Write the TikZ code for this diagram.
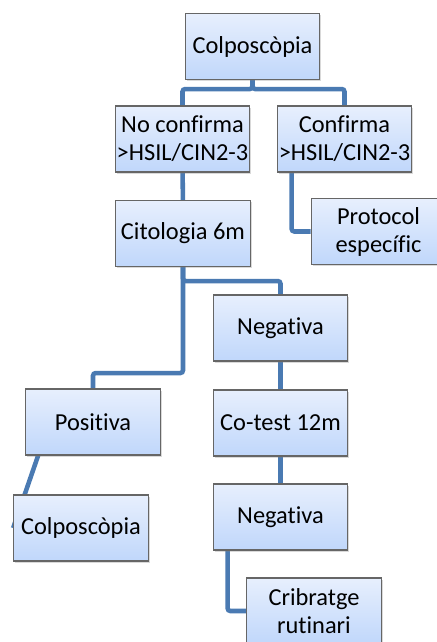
\documentclass[tikz,border=0pt]{standalone}
\usepackage{fontspec}
\setmainfont[Ligatures=NoCommon]{Carlito}
\usetikzlibrary{shadows,backgrounds}
\definecolor{linkblue}{RGB}{74,122,178}
\definecolor{boxtop}{RGB}{231,239,253}
\definecolor{boxbot}{RGB}{192,215,251}
\tikzset{
  stage/.style={draw=gray!80!black,line width=0.8pt,top color=boxtop,bottom color=boxbot,
    minimum width=101pt,minimum height=49.5pt,inner sep=0pt,align=center,
    font=\fontsize{18.3}{21}\selectfont,
    drop shadow={shadow xshift=1.2pt,shadow yshift=-1.2pt,opacity=0.3}},
  link/.style={draw=linkblue,line width=3.4pt,rounded corners=2pt}
}
\begin{document}
\begin{tikzpicture}[x=0.75pt,y=-0.75pt]
\useasboundingbox (0,0) rectangle (436,642);
\node[stage] (v0) at (252.5,46.5) {Colposcòpia};
\node[stage] (v1) at (182.5,139) {No confirma\\>HSIL/CIN2-3};
\node[stage] (v2) at (344.5,139) {Confirma\\>HSIL/CIN2-3};
\node[stage] (v3) at (378.5,231.5) {Protocol\\específic};
\node[stage] (v4) at (183,233.5) {Citologia 6m};
\node[stage] (v5) at (280.5,328) {Negativa};
\node[stage] (v6) at (93,422) {Positiva};
\node[stage] (v7) at (280.5,423) {Co-test 12m};
\node[stage] (v8) at (81,528) {Colposcòpia};
\node[stage] (v9) at (280.5,517) {Negativa};
\node[stage] (v10) at (314,611) {Cribratge\\rutinari};
\begin{pgfonlayer}{background}
\draw[link] (v0.south) -- ++(0,9) -| (v1.north);
\draw[link] (v0.south) -- ++(0,9) -| (v2.north);
\draw[link] ([xshift=11.25pt]v2.south west) |- (v3.west);
\draw[link] (v1) -- (v4);
\draw[link] (v4.south) -- ++(0,14) -| (v5.north);
\draw[link] (v4.south) -- ++(0,106) -| (v6.north);
\draw[link] (v5) -- (v7);
\draw[link] (v7) -- (v9);
\draw[link] ([xshift=9.75pt]v6.south west) -- (v8.west);
\draw[link] ([xshift=11.25pt]v9.south west) |- (v10.west);
\end{pgfonlayer}
\end{tikzpicture}
\end{document}
